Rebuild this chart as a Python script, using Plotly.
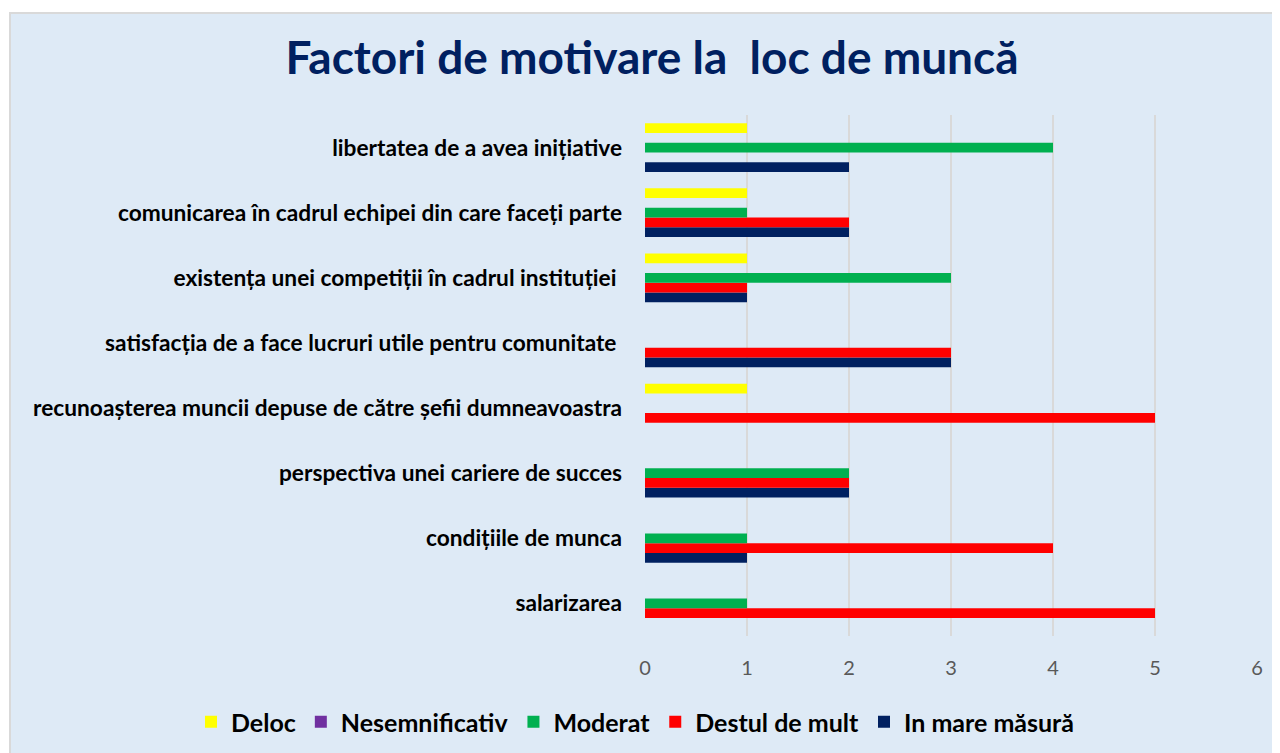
import plotly.graph_objects as go

categories = [
    "salarizarea",
    "condițiile de munca",
    "perspectiva unei cariere de succes",
    "recunoașterea muncii depuse de către șefii dumneavoastra",
    "satisfacția de a face lucruri utile pentru comunitate\u00a0",
    "existența unei competiții în cadrul instituției\u00a0",
    "comunicarea în cadrul echipei din care faceți parte",
    "libertatea de a avea inițiative",
]
deloc = [0, 0, 0, 1, 0, 1, 1, 1]
nesemnificativ = [0, 0, 0, 0, 0, 0, 0, 0]
moderat = [1, 1, 2, 0, 0, 3, 1, 4]
destul = [5, 4, 2, 5, 3, 1, 2, 0]
mare = [0, 1, 2, 0, 3, 1, 2, 2]

series = [
    ("In mare măsură", mare, "#002060"),
    ("Destul de mult", destul, "#FF0000"),
    ("Moderat", moderat, "#00B050"),
    ("Nesemnificativ", nesemnificativ, "#7030A0"),
    ("Deloc", deloc, "#FFFF00"),
]

FONT = "Lato"
OFF = 8  # page body margin
W, H = 1280 - OFF, 753 - OFF
L, R, T, B = 645 - OFF, 23, 115 - OFF, 753 - 636
pw, ph = W - L - R, H - T - B

def px_x(p):
    return (p - OFF - L) / pw

def px_y(p):
    return (H - B - (p - OFF)) / ph

fig = go.Figure()
for name, vals, col in series:
    fig.add_trace(go.Bar(
        y=categories, x=vals, name=name, orientation="h",
        marker=dict(color=col, line=dict(width=0)),
    ))

fig.update_layout(
    width=W, height=H,
    margin=dict(l=L, r=R, t=T, b=B, autoexpand=False),
    paper_bgcolor="white",
    plot_bgcolor="rgba(0,0,0,0)",
    barmode="group", bargap=0.25, bargroupgap=0,
    title=dict(text="<b>Factori de motivare la  loc de muncă</b>",
               x=(652 - OFF) / W, xanchor="center",
               y=1 - (58 - OFF) / H, yanchor="middle", yref="container",
               font=dict(family=FONT, size=46, color="#002060")),
    legend=dict(orientation="h", traceorder="reversed",
                xref="paper", x=px_x(205 - 14), xanchor="left",
                yref="paper", y=px_y(722), yanchor="middle",
                font=dict(family=FONT, size=25, color="black", weight="bold"),
                itemwidth=30, bgcolor="rgba(0,0,0,0)"),
    xaxis=dict(range=[0, 6], dtick=1, showgrid=True, gridcolor="#D9D9D9",
               gridwidth=1.5, zeroline=False, showline=False,
               tickfont=dict(family=FONT, size=20, color="#595959"),
               ticklabelstandoff=18),
    yaxis=dict(showgrid=False, showline=False, zeroline=False,
               tickfont=dict(family=FONT, size=22.7, color="black", weight="bold"),
               ticklabelstandoff=22),
    shapes=[dict(type="rect", xref="paper", yref="paper",
                 x0=px_x(10), x1=px_x(1295), y0=px_y(13), y1=px_y(770),
                 fillcolor="#DEEAF6", line=dict(color="#D9D9D9", width=2),
                 layer="below")],
)

fig.write_html("out.html")
